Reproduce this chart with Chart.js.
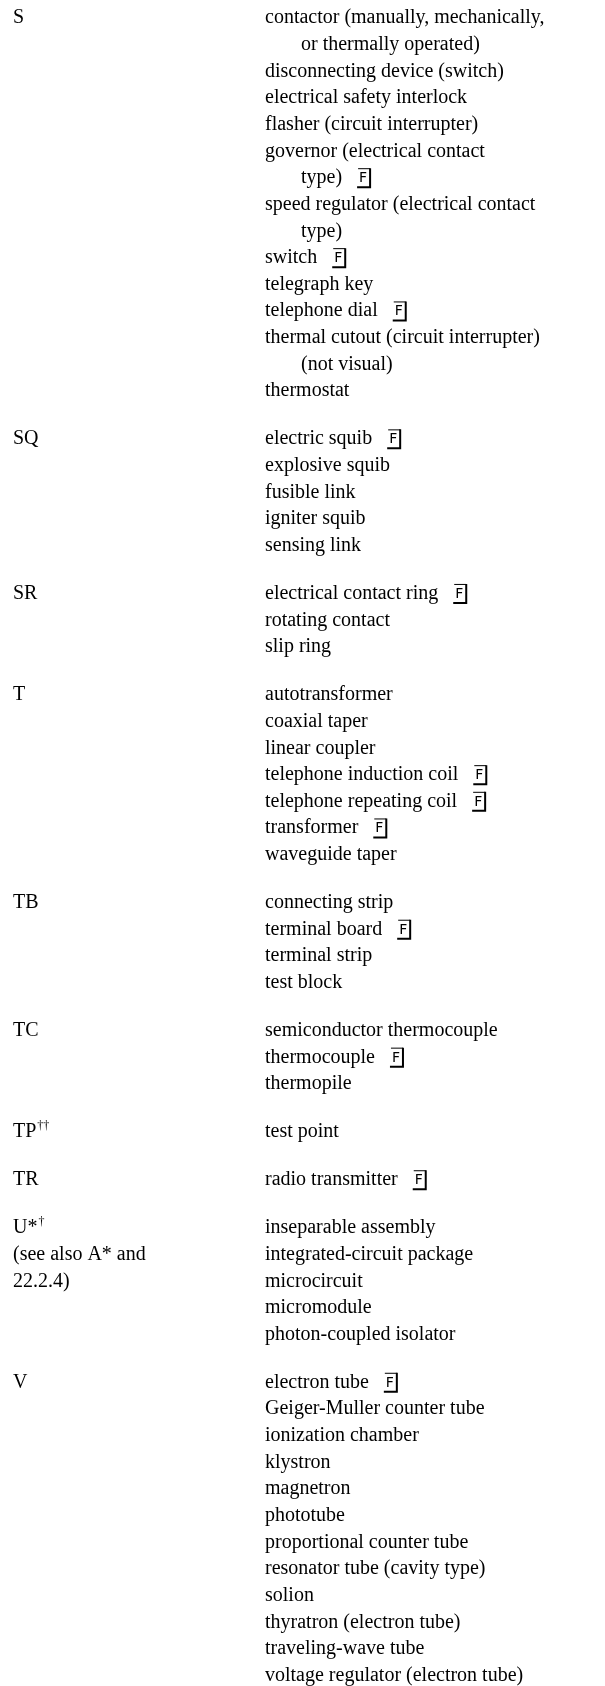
<!DOCTYPE html>
<html>
<head>
<meta charset="utf-8">
<script src="https://cdn.jsdelivr.net/npm/chart.js@4.4.0/dist/chart.umd.min.js"></script>
<style>
    html, body { margin: 0; padding: 0; background: #fff; }
    #wrap { width: 605px; height: 1686px; position: relative; }
</style>
</head>
<body>
<div id="wrap"><canvas id="refChart"></canvas></div>
<script>
// Reference designation letters
const codes = ['S', 'SQ', 'SR', 'T', 'TB', 'TC', 'TP', 'TR', 'U', 'V'];
const codeSups = ['', '', '', '', '', '', '\u2020\u2020', '', '\u2020', ''];
const codeStars = ['', '', '', '', '', '', '', '', '*', ''];
const codeNotes = [[], [], [], [], [], [], [], [], ['(see also A* and', '22.2.4)'], []];

// Part names per letter (\n = wrapped continuation line)
const partNames = [
    ['contactor (manually, mechanically,\nor thermally operated)', 'disconnecting device (switch)',
     'electrical safety interlock', 'flasher (circuit interrupter)', 'governor (electrical contact\ntype)',
     'speed regulator (electrical contact\ntype)', 'switch', 'telegraph key', 'telephone dial',
     'thermal cutout (circuit interrupter)\n(not visual)', 'thermostat'],
    ['electric squib', 'explosive squib', 'fusible link', 'igniter squib', 'sensing link'],
    ['electrical contact ring', 'rotating contact', 'slip ring'],
    ['autotransformer', 'coaxial taper', 'linear coupler', 'telephone induction coil',
     'telephone repeating coil', 'transformer', 'waveguide taper'],
    ['connecting strip', 'terminal board', 'terminal strip', 'test block'],
    ['semiconductor thermocouple', 'thermocouple', 'thermopile'],
    ['test point'],
    ['radio transmitter'],
    ['inseparable assembly', 'integrated-circuit package', 'microcircuit', 'micromodule',
     'photon-coupled isolator'],
    ['electron tube', 'Geiger-Muller counter tube', 'ionization chamber', 'klystron', 'magnetron',
     'phototube', 'proportional counter tube', 'resonator tube (cavity type)', 'solion',
     'thyratron (electron tube)', 'traveling-wave tube', 'voltage regulator (electron tube)']
];

// Names carrying the boxed F mark
const boxedF = ['governor (electrical contact\ntype)', 'switch', 'telephone dial', 'electric squib',
    'electrical contact ring', 'telephone induction coil', 'telephone repeating coil', 'transformer',
    'terminal board', 'thermocouple', 'radio transmitter', 'electron tube'];

// layout
const LINE = 26.65;
const FIRST_BASE = 23.3;
const GROUP_GAP = 0.8;
const LEFT_X = 13;
const RIGHT_X = 265;
const INDENT = 36;
const FONT = '20px "Liberation Serif", "Times New Roman", serif';

const leftPoints = [];
const rightPoints = [];
let row = 0;
codes.forEach((code, g) => {
    if (g > 0) row += GROUP_GAP;
    const start = row;
    leftPoints.push({ x: LEFT_X, y: start, text: code, star: codeStars[g], sup: codeSups[g] });
    codeNotes[g].forEach((note, k) => {
        leftPoints.push({ x: LEFT_X, y: start + k + 1, text: note });
    });
    partNames[g].forEach(name => {
        const lines = name.split('\n');
        lines.forEach((ln, k) => {
            rightPoints.push({
                x: k ? RIGHT_X + INDENT : RIGHT_X,
                y: row,
                text: ln,
                boxF: k === lines.length - 1 && boxedF.includes(name)
            });
            row++;
        });
    });
});

const textPlugin = {
    id: 'textRows',
    afterDatasetsDraw(chart) {
        const ctx = chart.ctx;
        ctx.save();
        ctx.fillStyle = '#000';
        ctx.strokeStyle = '#000';
        ctx.textBaseline = 'alphabetic';
        ctx.textAlign = 'left';
        chart.data.datasets.forEach((ds, di) => {
            const meta = chart.getDatasetMeta(di);
            meta.data.forEach((pt, i) => {
                const item = ds.data[i];
                ctx.font = FONT;
                ctx.fillText(item.text, pt.x, pt.y);
                let endX = pt.x + ctx.measureText(item.text).width;
                if (item.star) {
                    ctx.fillText(item.star, endX, pt.y);
                    endX += ctx.measureText(item.star).width;
                }
                if (item.sup) {
                    ctx.font = '12px "Liberation Serif", serif';
                    ctx.fillText(item.sup, endX + 1, pt.y - 8);
                }
                if (item.boxF) {
                    const bx = endX + 16;
                    const top = pt.y - 15;
                    const bottom = pt.y + 4;
                    const w = 12;
                    ctx.font = '14px "DejaVu Sans", sans-serif';
                    ctx.fillText('F', bx + 1, pt.y - 1);
                    ctx.lineWidth = 1;
                    ctx.beginPath();
                    ctx.moveTo(bx, top + 0.5);
                    ctx.lineTo(bx + w, top + 0.5);
                    ctx.stroke();
                    ctx.lineWidth = 2;
                    ctx.beginPath();
                    ctx.moveTo(bx + w, top);
                    ctx.lineTo(bx + w, bottom);
                    ctx.lineTo(bx - 1, bottom);
                    ctx.stroke();
                }
            });
        });
        ctx.restore();
    }
};

const yMin = -FIRST_BASE / LINE;
const yMax = yMin + 1686 / LINE;

const refChart = new Chart(document.getElementById('refChart'), {
    type: 'scatter',
    data: {
        datasets: [
            { label: 'Letters', data: leftPoints, pointRadius: 0, showLine: false },
            { label: 'Names', data: rightPoints, pointRadius: 0, showLine: false }
        ]
    },
    options: {
        responsive: true,
        maintainAspectRatio: false,
        animation: false,
        layout: { padding: 0 },
        plugins: { legend: { display: false }, tooltip: { enabled: false } },
        scales: {
            x: { type: 'linear', min: 0, max: 605, display: false },
            y: { type: 'linear', min: yMin, max: yMax, reverse: true, display: false }
        }
    },
    plugins: [textPlugin]
});
</script>
</body>
</html>
